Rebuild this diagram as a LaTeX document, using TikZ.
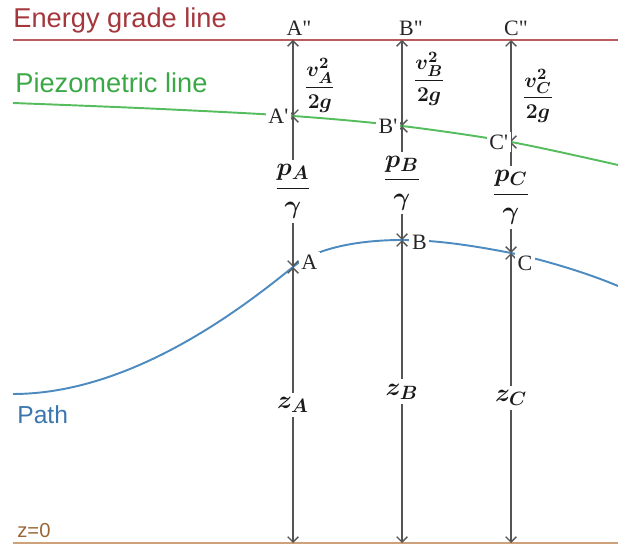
\documentclass[tikz,border=0pt]{standalone}
\usepackage{amsmath,amssymb}
\usepackage{fontspec}
\usepackage{xcolor}
\usepackage{tikz}
\usetikzlibrary{arrows.meta,positioning}
\newfontfamily\linefont{Liberation Sans}
\newfontfamily\ptfont{Liberation Serif}
\definecolor{cRed}{HTML}{A4373C}
\definecolor{cRedL}{HTML}{B95B5F}
\definecolor{cGreen}{HTML}{3AA845}
\definecolor{cGreenL}{HTML}{55BD5E}
\definecolor{cBlue}{HTML}{3B76AE}
\definecolor{cBlueL}{HTML}{4C8AC0}
\definecolor{cBrown}{HTML}{9A6637}
\definecolor{cBrownL}{HTML}{CFA17A}
\definecolor{cGray}{HTML}{555555}
\tikzset{
  dim/.style={{Straight Barb[length=3pt,width=6pt]}-{Straight Barb[length=3pt,width=6pt]},line width=0.8pt,color=cGray},
  hline/.style={line width=1.1pt,color=#1},
  ttl/.style={font=\linefont\fontsize{15.5}{18}\selectfont,text=#1,anchor=base west,inner sep=0pt},
  ptlbl/.style={font=\ptfont\fontsize{12.5}{14}\selectfont,fill=white,inner sep=1.5pt,text=black!85},
  fraclbl/.style={font=\fontsize{15}{17}\selectfont\boldmath,fill=white,inner sep=2.5pt,text=black!90},
  vlbl/.style={font=\fontsize{13}{15}\selectfont\boldmath,inner sep=1pt,text=black!90},
}

\begin{document}
\begin{tikzpicture}[x=0.02cm,y=-0.02cm]
    \useasboundingbox (0,0) rectangle (618,546);
    % the three sections: energy (2), piezometric (1), path (0), datum (3)
    \coordinate (A2) at (293,40);  \coordinate (A1) at (293,116);
    \coordinate (A0) at (293,267); \coordinate (A3) at (293,543);
    \coordinate (B2) at (402,40);  \coordinate (B1) at (402,126);
    \coordinate (B0) at (402,240); \coordinate (B3) at (402,543);
    \coordinate (C2) at (511,40);  \coordinate (C1) at (511,142);
    \coordinate (C0) at (511,253); \coordinate (C3) at (511,543);
    % lines
    \draw[hline=cRedL] (13,40) -- (618,40);
    \draw[hline=cGreenL] plot[smooth] coordinates {(13,103) (150,108.5) (A1) (B1) (C1) (618,165)};
    \draw[hline=cBlueL] (13,394) .. controls (130,394) and (240,310) .. (A0)
      .. controls (318,246) and (365,240) .. (B0)
      .. controls (440,240) and (480,247) .. (C0)
      .. controls (540,259) and (585,272) .. (618,286);
    \draw[hline=cBrownL,line width=1.7pt] (13,543) -- (618,543);
    \node[ttl=cRed] (tEnergy) at (13,28) {Energy grade line};
    \node[ttl=cGreen] (tPiezo) at (15,93) {Piezometric line};
    \node[ttl=cBlue,font=\linefont\fontsize{14}{16}\selectfont] (tPath) at (17,424) {Path};
    \node[ttl=cBrown,font=\linefont\fontsize{11.5}{14}\selectfont] (tDatum) at (17,537) {z=0};
    % section A
    \draw[dim] (A2) -- node[vlbl,right=5pt,pos=0.6] (vA) {$\dfrac{v_A^2}{2g}$} (A1);
    \draw[dim] (A1) -- node[fraclbl] (pA) {$\dfrac{p_A}{\gamma}$} (A0);
    \draw[dim] (A0) -- node[fraclbl] (zA) {$z_A$} (A3);
    % section B
    \draw[dim] (B2) -- node[vlbl,right=5pt,pos=0.45] (vB) {$\dfrac{v_B^2}{2g}$} (B1);
    \draw[dim] (B1) -- node[fraclbl] (pB) {$\dfrac{p_B}{\gamma}$} (B0);
    \draw[dim] (B0) -- node[fraclbl] (zB) {$z_B$} (B3);
    % section C
    \draw[dim] (C2) -- node[vlbl,right=5pt,pos=0.55] (vC) {$\dfrac{v_C^2}{2g}$} (C1);
    \draw[dim] (C1) -- node[fraclbl] (pC) {$\dfrac{p_C}{\gamma}$} (C0);
    \draw[dim] (C0) -- node[fraclbl] (zC) {$z_C$} (C3);
    % point labels
    \node[ptlbl,above=1pt,xshift=0.12cm] (lA2) at (A2) {A\textquotedbl};
    \node[ptlbl,above=1pt,xshift=0.18cm] (lB2) at (B2) {B\textquotedbl};
    \node[ptlbl,above=1pt,xshift=0.1cm] (lC2) at (C2) {C\textquotedbl};
    \node[ptlbl,left=1pt] (lA1) at (A1) {A\textquotesingle};
    \node[ptlbl,left=1pt] (lB1) at (B1) {B\textquotesingle};
    \node[ptlbl,left=0pt] (lC1) at (C1) {C\textquotesingle};
    \node[ptlbl,right=3pt,yshift=0.1cm] (lA0) at (A0) {A};
    \node[ptlbl,right=4pt,yshift=-0.05cm] (lB0) at (B0) {B};
    \node[ptlbl,below right=0pt and 2pt] (lC0) at (C0) {C};
\end{tikzpicture}
\end{document}
